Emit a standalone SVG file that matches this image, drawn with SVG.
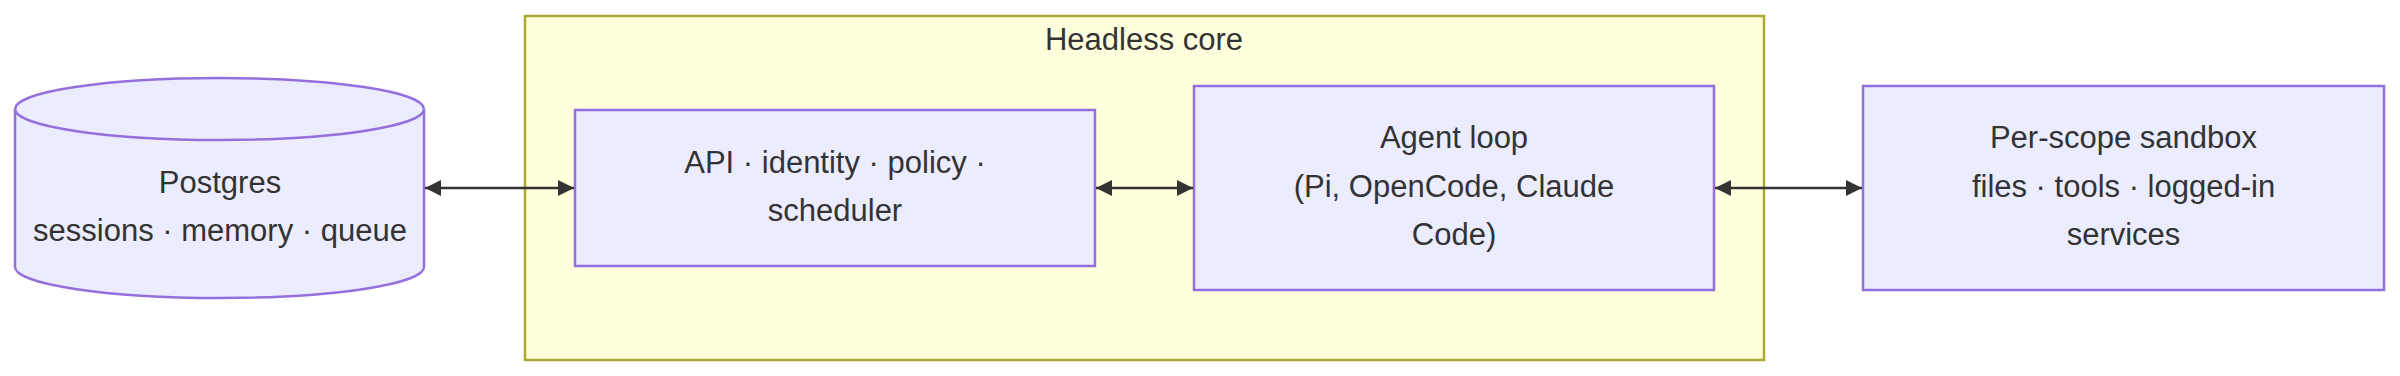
<svg xmlns="http://www.w3.org/2000/svg" width="2400" height="376" viewBox="0 0 2400 376">
<style>
.cluster{fill:#ffffde;stroke:#aaaa33;stroke-width:2.5}
.node{fill:#ececff;stroke:#9370db;stroke-width:2.5}
.lbl{font-family:"Liberation Sans",Arial,sans-serif;font-size:31px;fill:#333333;text-anchor:middle}
.edge{stroke:#333333;stroke-width:2.5;fill:none}
</style>
<defs>
<marker id="arrow" markerUnits="userSpaceOnUse" viewBox="0 0 16 16" refX="16" refY="8" markerWidth="16" markerHeight="16" orient="auto-start-reverse">
<path d="M0,0 L16,8 L0,16 z" fill="#333333"/>
</marker>
</defs>
<g id="cluster-headless-core">
<rect class="cluster" x="525" y="16" width="1239" height="344"/>
<text class="lbl" x="1144" y="50">Headless core</text>
</g>
<g id="node-postgres">
<path class="node" d="M15,109 a204.5,31 0 0 0 409,0 a204.5,31 0 0 0 -409,0 l0,158 a204.5,31 0 0 0 409,0 l0,-158"/>
<text class="lbl" x="220" y="193">Postgres</text>
<text class="lbl" x="220" y="241">sessions · memory · queue</text>
</g>
<g id="node-api">
<rect class="node" x="575" y="110" width="520" height="156"/>
<text class="lbl" x="835" y="173">API · identity · policy ·</text>
<text class="lbl" x="835" y="221">scheduler</text>
</g>
<g id="node-agent">
<rect class="node" x="1194" y="86" width="520" height="204"/>
<text class="lbl" x="1454" y="148">Agent loop</text>
<text class="lbl" x="1454" y="197">(Pi, OpenCode, Claude</text>
<text class="lbl" x="1454" y="245">Code)</text>
</g>
<g id="node-sandbox">
<rect class="node" x="1863" y="86" width="521" height="204"/>
<text class="lbl" x="2123.5" y="148">Per-scope sandbox</text>
<text class="lbl" x="2123.5" y="197">files · tools · logged-in</text>
<text class="lbl" x="2123.5" y="245">services</text>
</g>
<g id="connectors">
<line class="edge" x1="425" y1="188" x2="574" y2="188" marker-start="url(#arrow)" marker-end="url(#arrow)"/>
<line class="edge" x1="1096" y1="188" x2="1193" y2="188" marker-start="url(#arrow)" marker-end="url(#arrow)"/>
<line class="edge" x1="1715" y1="188" x2="1862" y2="188" marker-start="url(#arrow)" marker-end="url(#arrow)"/>
</g>
</svg>
